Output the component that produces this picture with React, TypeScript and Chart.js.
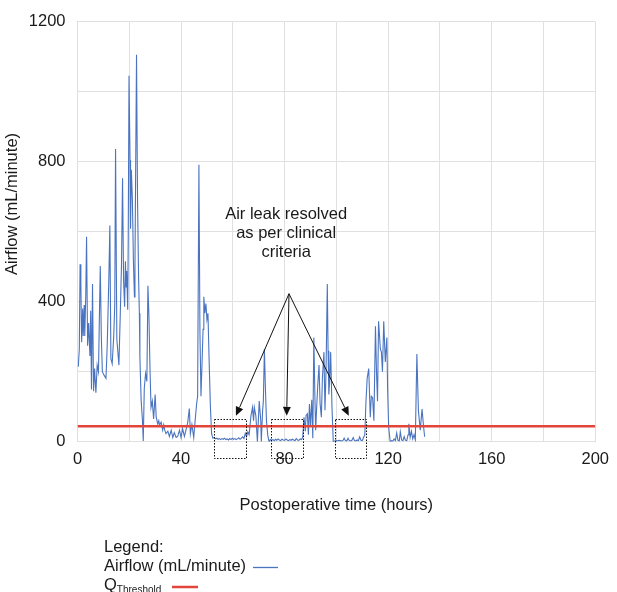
import React, { useEffect, useRef } from "react";
import { Chart, registerables } from "chart.js";

Chart.register(...registerables);

const hours: number[] = [
  0.3, 0.7, 1.0, 1.3, 1.6, 2.0, 2.2, 2.6, 2.8, 3.2, 3.5, 3.9, 4.3, 4.8, 5.1, 5.4, 5.8, 6.2, 6.6, 7.1,
  7.6, 8.1, 8.4, 8.8, 9.2, 9.6, 10.2, 10.6, 11.0, 11.5, 12.1, 12.5, 12.9, 13.4, 14.0, 14.4, 14.7, 15.2, 15.5, 16.0,
  16.5, 17.0, 17.4, 17.8, 18.2, 18.5, 18.8, 19.0, 19.4, 19.6, 19.9, 20.3, 20.5, 20.8, 21.2, 21.6, 22.0, 22.2, 22.8, 23.2,
  23.6, 23.9, 24.1, 24.6, 25.1, 25.4, 25.8, 26.3, 26.8, 27.2, 27.6, 28.0, 28.4, 28.9, 29.4, 30.0, 30.4, 31.0, 31.4, 31.7,
  32.3, 32.9, 33.3, 33.7, 34.2, 34.9, 35.5, 36.2, 36.8, 37.4, 38.1, 38.7, 39.4, 40.0, 40.6, 41.3, 41.9, 42.6, 43.2, 43.6,
  44.2, 44.9, 45.5, 46.0, 46.4, 46.9, 47.3, 47.7, 48.1, 48.5, 48.8, 49.2, 49.6, 50.0, 50.4, 50.8, 51.3, 51.8, 52.3, 52.8,
  53.3, 53.8, 54.3, 54.8, 55.3, 55.8, 56.3, 56.8, 57.3, 57.8, 58.3, 58.8, 59.3, 59.8, 60.3, 60.8, 61.3, 61.8, 62.3, 62.8,
  63.3, 63.8, 64.3, 64.8, 65.3, 65.8, 66.3, 67.0, 67.6, 68.0, 68.3, 68.9, 69.5, 70.2, 70.8, 71.0, 71.5, 71.8, 72.2, 72.6,
  73.0, 73.5, 74.0, 74.5, 75.0, 75.5, 76.0, 76.5, 77.0, 77.5, 78.0, 78.5, 79.0, 79.5, 80.0, 80.5, 81.0, 81.5, 82.0, 82.5,
  83.0, 83.5, 84.0, 84.5, 85.0, 85.5, 86.0, 86.5, 87.0, 87.5, 88.0, 88.3, 88.8, 89.2, 89.6, 90.0, 90.5, 90.9, 91.3, 91.7,
  92.0, 92.4, 92.8, 93.3, 93.7, 94.2, 94.6, 95.2, 95.6, 96.0, 96.5, 96.8, 97.1, 97.5, 97.8, 98.3, 98.8, 99.3, 100.0, 100.5,
  101.0, 101.5, 102.0, 102.5, 103.0, 103.5, 104.0, 104.5, 105.0, 105.5, 106.0, 106.5, 107.0, 107.5, 108.0, 108.5, 109.0, 109.5, 110.0, 110.5,
  111.0, 111.4, 111.9, 112.5, 113.1, 113.5, 114.0, 114.5, 115.1, 115.5, 115.9, 116.3, 116.7, 117.0, 117.4, 117.8, 118.3, 118.9, 119.5, 119.8,
  120.2, 120.8, 121.3, 121.8, 122.3, 122.8, 123.3, 123.8, 124.3, 124.7, 125.2, 125.7, 126.2, 126.7, 127.2, 127.7, 128.0, 128.5, 129.0, 129.5,
  130.0, 130.5, 131.1, 131.7, 132.4, 133.1, 133.7, 134.1,
];

const airflow: number[] = [
  214, 265, 507, 451, 284, 381, 302, 391, 302, 420, 586, 274, 339, 245, 374, 149, 451, 144, 209, 140,
  219, 200, 330, 502, 302, 200, 191, 186, 181, 279, 465, 618, 237, 223, 302, 395, 837, 293, 265, 219,
  358, 507, 753, 460, 386, 516, 442, 488, 377, 581, 1046, 805, 609, 777, 693, 516, 414, 507, 1106, 684,
  469, 367, 242, 116, 60, 2, 153, 195, 172, 446, 358, 209, 98, 116, 65, 135, 70, 51, 60, 47,
  56, 33, 48, 33, 23, 30, 15, 33, 12, 26, 12, 15, 33, 12, 37, 15, 33, 56, 95, 23,
  49, 12, 65, 107, 130, 792, 312, 130, 223, 321, 414, 367, 395, 349, 367, 246, 107, 23, 10, 12,
  8, 10, 7, 9, 6, 9, 7, 10, 6, 8, 5, 9, 6, 10, 7, 9, 6, 8, 11, 7,
  10, 14, 9, 24, 15, 28, 20, 74, 98, 60, 98, 74, 0, 116, 60, 0, 88, 116, 265, 150,
  60, 18, 0, 6, 4, 6, 3, 7, 4, 8, 5, 3, 7, 5, 4, 8, 5, 3, 6, 4,
  7, 5, 3, 9, 5, 4, 8, 6, 12, 70, 30, 75, 80, 20, 108, 45, 120, 10, 298, 130,
  33, 100, 160, 219, 110, 70, 180, 256, 90, 200, 451, 260, 135, 190, 256, 100, 0, 2, 3, 2,
  4, 3, 2, 3, 10, 3, 2, 10, 3, 2, 4, 12, 3, 2, 5, 3, 14, 4, 3, 12,
  20, 110, 181, 209, 70, 130, 126, 60, 330, 200, 116, 344, 300, 265, 256, 200, 344, 228, 298, 150,
  42, 0, 3, 2, 8, 3, 25, 4, 2, 28, 5, 3, 15, 4, 3, 20, 51, 12, 30, 8,
  20, 5, 251, 88, 33, 93, 42, 14,
];

const THRESHOLD = 44;
const xTickValues: number[] = [0, 40, 80, 120, 160, 200];
const yTickValues: number[] = [0, 400, 800, 1200];
// resolved windows (hours) and arrow targets
const boxStarts: number[] = [52.6, 74.7, 99.4];
const boxEnds: number[] = [65.1, 87.2, 111.6];
const boxTop = 65;
const boxBottom = -48;
const arrowTipsX: number[] = [61.2, 80.8, 104.8];
const arrowTipY = 74;
const arrowOrigin = { x: 81.7, y: 423 };
const noteLines: string[] = ["Air leak resolved", "as per clinical", "criteria"];
const noteX = 80.6;
const noteY: number[] = [650, 594, 541];

const FONT = "'Liberation Sans', Arial, Helvetica, sans-serif";
const FS = 16.5;
const BLUE = "#4a74c0";
const RED = "#e2463a";
const GRID = "#e0e0e0";
const TEXT = "#1a1a1a";

const overlay = {
  id: "overlay",
  afterDraw(chart: any) {
    const ctx = chart.ctx as CanvasRenderingContext2D;
    const xs = chart.scales.x;
    const ys = chart.scales.y;
    ctx.save();
    // dotted boxes
    ctx.strokeStyle = "#111";
    ctx.lineWidth = 1;
    ctx.setLineDash([1.5, 1.5]);
    for (let i = 0; i < boxStarts.length; i++) {
      const x1 = Math.round(xs.getPixelForValue(boxStarts[i])) + 0.5;
      const x2 = Math.round(xs.getPixelForValue(boxEnds[i])) + 0.5;
      const y1 = Math.round(ys.getPixelForValue(boxTop)) + 0.5;
      const y2 = Math.round(ys.getPixelForValue(boxBottom)) + 0.5;
      ctx.strokeRect(x1, y1, x2 - x1, y2 - y1);
    }
    ctx.setLineDash([]);
    // arrows
    const ox = xs.getPixelForValue(arrowOrigin.x);
    const oy = ys.getPixelForValue(arrowOrigin.y);
    ctx.fillStyle = "#111";
    for (let i = 0; i < arrowTipsX.length; i++) {
      const tx = xs.getPixelForValue(arrowTipsX[i]);
      const ty = ys.getPixelForValue(arrowTipY);
      const ang = Math.atan2(ty - oy, tx - ox);
      const hl = 9;
      const hw = 4;
      const bx = tx - hl * Math.cos(ang);
      const by = ty - hl * Math.sin(ang);
      ctx.beginPath();
      ctx.moveTo(ox, oy);
      ctx.lineTo(bx, by);
      ctx.stroke();
      ctx.beginPath();
      ctx.moveTo(tx, ty);
      ctx.lineTo(bx + hw * Math.sin(ang), by - hw * Math.cos(ang));
      ctx.lineTo(bx - hw * Math.sin(ang), by + hw * Math.cos(ang));
      ctx.closePath();
      ctx.fill();
    }
    // annotation text
    ctx.fillStyle = TEXT;
    ctx.font = `${FS}px ${FONT}`;
    ctx.textAlign = "center";
    ctx.textBaseline = "middle";
    for (let i = 0; i < noteLines.length; i++) {
      ctx.fillText(noteLines[i], xs.getPixelForValue(noteX), ys.getPixelForValue(noteY[i]));
    }
    // y axis title
    ctx.save();
    ctx.translate(12, 204);
    ctx.rotate(-Math.PI / 2);
    ctx.fillText("Airflow (mL/minute)", 0, 0);
    ctx.restore();
    // legend
    ctx.textAlign = "left";
    ctx.fillText("Legend:", 104, 547);
    ctx.fillText("Airflow (mL/minute)", 104, 566);
    ctx.strokeStyle = BLUE;
    ctx.lineWidth = 1.3;
    ctx.beginPath();
    ctx.moveTo(253, 567.5);
    ctx.lineTo(278, 567.5);
    ctx.stroke();
    ctx.fillText("Q", 104, 585);
    const qw = ctx.measureText("Q").width;
    ctx.font = `10px ${FONT}`;
    ctx.fillText("Threshold", 104 + qw, 590);
    ctx.strokeStyle = RED;
    ctx.lineWidth = 2.5;
    ctx.beginPath();
    ctx.moveTo(172, 587);
    ctx.lineTo(198, 587);
    ctx.stroke();
    ctx.restore();
  },
};

export default function App() {
  const ref = useRef<HTMLCanvasElement | null>(null);
  useEffect(() => {
    if (!ref.current) return;
    const series = hours.map((h, i) => ({ x: h, y: airflow[i] }));
    const thr = [
      { x: 0, y: THRESHOLD },
      { x: 200, y: THRESHOLD },
    ];
    const chart = new Chart(ref.current, {
      type: "line",
      data: {
        datasets: [
          {
            label: "Airflow (mL/minute)",
            data: series,
            borderColor: BLUE,
            borderWidth: 1.1,
            pointRadius: 0,
            tension: 0,
            order: 2,
          },
          {
            label: "QThreshold",
            data: thr,
            borderColor: RED,
            borderWidth: 2.5,
            pointRadius: 0,
            order: 1,
          },
        ],
      },
      options: {
        responsive: false,
        animation: false,
        layout: { padding: { left: 0, top: 11.5, right: 19.5, bottom: 75 } },
        plugins: { legend: { display: false }, tooltip: { enabled: false } },
        scales: {
          x: {
            type: "linear",
            min: 0,
            max: 200,
            ticks: {
              stepSize: 20,
              autoSkip: false,
              maxRotation: 0,
              padding: 8,
              color: TEXT,
              font: { size: FS, family: FONT },
              callback: (v: any) => (xTickValues.includes(Number(v)) ? String(v) : ""),
            },
            grid: { color: GRID, drawTicks: false },
            border: { color: GRID },
            title: {
              display: true,
              text: "Postoperative time (hours)",
              color: TEXT,
              font: { size: FS, family: FONT },
              padding: { top: 0, bottom: 2 },
            },
            afterFit: (s: any) => {
              s.height = 75.3;
            },
          },
          y: {
            min: 0,
            max: 1200,
            ticks: {
              stepSize: 200,
              autoSkip: false,
              padding: 12,
              color: TEXT,
              font: { size: FS, family: FONT },
              callback: (v: any) => (yTickValues.includes(Number(v)) ? String(v) : ""),
            },
            grid: { color: GRID, drawTicks: false },
            border: { color: GRID },
            afterFit: (s: any) => {
              s.width = 77.5;
            },
          },
        },
      },
      plugins: [overlay],
    });
    return () => chart.destroy();
  }, []);
  return (
    <div style={{ position: "fixed", left: 0, top: 0, width: 617, height: 592, background: "#fff" }}>
      <canvas ref={ref} width={617} height={592} style={{ width: 617, height: 592 }} />
    </div>
  );
}
